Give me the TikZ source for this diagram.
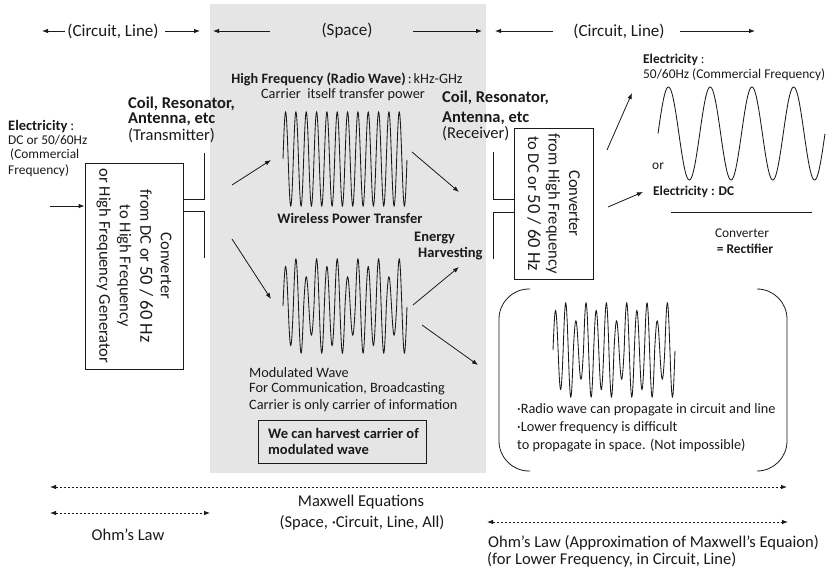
\documentclass[tikz,border=0pt]{standalone}
\usepackage{fontspec}
\setmainfont{Carlito}
\usetikzlibrary{arrows.meta}
\definecolor{txt}{HTML}{1A1A1A}
\definecolor{ln}{HTML}{1A1A1A}
\definecolor{bgc}{HTML}{E5E5E5}
\begin{document}
\begin{tikzpicture}[x=1pt,y=-1pt,
  every node/.style={inner sep=0pt, text=txt},
  arr/.style={draw=ln, line width=0.8pt, -{Latex[length=6pt,width=4.5pt]}},
  darr/.style={draw=ln, line width=0.8pt, dash pattern=on 2.4pt off 1.6pt, {Latex[length=6pt,width=4.5pt]}-{Latex[length=6pt,width=4.5pt]}},
  wave/.style={draw=ln, line width=0.85pt},
  plain/.style={draw=ln, line width=0.8pt},
  boxst/.style={draw=ln, line width=0.8pt},
  fs/.style={font=\fontsize{13.4}{15}\selectfont},
  fsb/.style={font=\fontsize{13.4}{15}\selectfont\bfseries},
  fe/.style={font=\fontsize{14.5}{15}\selectfont\bfseries},
  fm/.style={font=\fontsize{14.3}{16}\selectfont},
  fmb/.style={font=\fontsize{14.5}{16}\selectfont\bfseries},
  fh/.style={font=\fontsize{17}{18}\selectfont},
  fc/.style={font=\fontsize{16.5}{15}\selectfont},
  fcb/.style={font=\fontsize{16.5}{15}\selectfont\bfseries},
  fbt/.style={font=\fontsize{16.5}{15}\selectfont},
  fr/.style={font=\fontsize{16.5}{20.5}\selectfont},
  declare function={amp(\t)=0.84*(mod(floor(\t),4)==0)+0.62*(mod(floor(\t),4)==2)+(mod(floor(\t),4)==1)+(mod(floor(\t),4)==3);}
]
\useasboundingbox (0,0) rectangle (839,575);
% space background
\node[fill=bgc, minimum width=276pt, minimum height=469pt, anchor=north west] (space) at (210,4) {};

% header
\node[fh] (hcl1) at (113,31) {(Circuit, Line)};
\node[fh] (hsp) at (347,31) {(Space)};
\node[fh] (hcl2) at (619,31) {(Circuit, Line)};
\coordinate (hA1) at (65,31); \coordinate (hA2) at (42,31);
\coordinate (hB1) at (165,31); \coordinate (hB2) at (200,31);
\coordinate (hC1) at (270,31); \coordinate (hC2) at (213,31);
\coordinate (hD1) at (413,31); \coordinate (hD2) at (482,31);
\coordinate (hE1) at (553,31); \coordinate (hE2) at (495,31);
\coordinate (hF1) at (680,31); \coordinate (hF2) at (755,31);
\draw[arr] (hA1) -- (hA2);
\draw[arr] (hB1) -- (hB2);
\draw[arr] (hC1) -- (hC2);
\draw[arr] (hD1) -- (hD2);
\draw[arr] (hE1) -- (hE2);
\draw[arr] (hF1) -- (hF2);

% high frequency text
\node[fm] (hf) at (347,79) {{\bfseries High Frequency (Radio Wave)}\hspace{2pt}:\hspace{2pt}kHz-GHz};
\node[fm] (hf2) at (343,95) {Carrier\ \ itself transfer power};

% left electricity
\node[fe, anchor=west] (el1) at (8,127) {Electricity\hspace{3pt}{\mdseries :}};
\node[fs, anchor=west] (el2) at (8,140) {DC or 50/60Hz};
\node[fs, anchor=west] (el3) at (10,155) {(Commercial};
\node[fs, anchor=west] (el4) at (8,171) {Frequency)};

% coil transmitter
\node[fcb, anchor=west] (ct1) at (128,103.5) {Coil, Resonator,};
\node[fcb, anchor=west] (ct2) at (128,119.5) {Antenna, etc};
\node[fc, anchor=west] (ct3) at (128,135.5) {(Transmitter)};

% coil receiver
\node[fcb, anchor=west] (cr1) at (442,98) {Coil, Resonator,};
\node[fcb, anchor=west] (cr2) at (442,118) {Antenna, etc};
\node[fc, anchor=west] (cr3) at (442,134) {(Receiver)};

% left box
\node[boxst, minimum width=98pt, minimum height=206pt] (lbox) at (134,266) {};
\node[fr, rotate=-90, align=center] (lboxt) at (lbox.center) {Converter\\from DC or {\fontsize{18.5}{20.5}\selectfont 50 / 60 Hz}\\to High Frequency\\or High Frequency Generator};
\coordinate (inA) at (50,206);
\draw[arr] (inA) -- (lbox.west |- inA);
% transmitter antenna
\coordinate (tu) at (204,153);
\coordinate (td) at (204,258);
\draw[plain] (tu) |- (lbox.east |- 0,199);
\draw[plain] (td) |- (lbox.east |- 0,211);

% right box
\node[boxst, minimum width=79pt, minimum height=151pt] (rbox) at (553.5,203.5) {};
\node[fr, rotate=-90, align=center] (rboxt) at (rbox.center) {Converter\\from High Frequency\\to DC or {\fontsize{18.5}{20.5}\selectfont 50 / 60 Hz}};
\coordinate (ru) at (493,152);
\coordinate (rd) at (493,259);
\draw[plain] (ru) |- (rbox.west |- 0,199);
\draw[plain] (rd) |- (rbox.west |- 0,212);

% waves
\draw[wave] plot[domain=0:12, samples=481, variable=\t] ({283+\t*124/12}, {159-47*sin(360*\t)});
\draw[wave] plot[domain=0:12, samples=481, variable=\t] ({283+\t*124/12}, {306-47*amp(\t)*sin(360*\t)});
\draw[wave] plot[domain=0:12, samples=481, variable=\t] ({553+\t*122/12}, {350-47*amp(\t)*sin(360*\t)});
\draw[wave] plot[domain=0:4, samples=241, variable=\t] ({658+\t*167/4}, {133.5-46.5*sin(360*\t)});

% middle texts
\node[fmb] (wpt) at (350,218) {Wireless Power Transfer};
\node[fmb, anchor=west] (eh1) at (414,238) {Energy};
\node[fmb, anchor=west] (eh2) at (418,254) {Harvesting};
\node[fm, anchor=west] (mw1) at (249,373) {Modulated Wave};
\node[fm, anchor=west] (mw2) at (249,389) {For Communication, Broadcasting};
\node[fm, anchor=west] (mw3) at (249,406) {Carrier is only carrier of information};
\node[boxst, minimum width=168pt, minimum height=43pt] (hv) at (342,441.5) {};
\node[fmb, anchor=west, align=left] (hvt) at (268,441.5) {We can harvest carrier of\\modulated wave};

% middle arrows
\coordinate (m1s) at (232,185); \coordinate (m1e) at (271,160);
\coordinate (m2s) at (232,239); \coordinate (m2e) at (271,299);
\coordinate (m3s) at (412,152); \coordinate (m3e) at (459,192);
\coordinate (m4s) at (413,305); \coordinate (m4e) at (459,267);
\coordinate (m5s) at (422,325); \coordinate (m5e) at (478,365);
\draw[arr] (m1s) -- (m1e);
\draw[arr] (m2s) -- (m2e);
\draw[arr] (m3s) -- (m3e);
\draw[arr] (m4s) -- (m4e);
\draw[arr] (m5s) -- (m5e);

% right side
\coordinate (r1s) at (607,150); \coordinate (r1e) at (632,93);
\coordinate (r2s) at (608,207); \coordinate (r2e) at (643,192);
\draw[arr] (r1s) -- (r1e);
\draw[arr] (r2s) -- (r2e);
\node[fsb, anchor=west] (er1) at (643,60) {Electricity\hspace{3pt}{\mdseries :}};
\node[fs, anchor=west] (er2) at (643,75) {50/60Hz (Commercial Frequency)};
\node[fs, anchor=west] (or) at (652,166) {or};
\node[fsb, anchor=west] (edc) at (653,192) {Electricity : DC};
\coordinate (rl1) at (671,212); \coordinate (rl2) at (812,212);
\draw[plain] (rl1) -- (rl2);
\node[fs] (cv) at (742,233) {Converter};
\node[fsb] (rect) at (745,249) {= Rectifier};

% bracket box
\draw[plain, rounded corners=30pt] (530,289) -- (499,289) -- (499,471) -- (530,471);
\draw[plain, rounded corners=30pt] (757,289) -- (787,289) -- (787,471) -- (757,471);
\node[fm, anchor=west] (b1) at (517,410) {·Radio wave can propagate in circuit and line};
\node[fm, anchor=west] (b2) at (517,428) {·Lower frequency is difficult};
\node[fm, anchor=west] (b3) at (517,445) {to propagate in space. (Not impossible)};

% bottom
\coordinate (L1a) at (50,487); \coordinate (L1b) at (787,487);
\coordinate (L2a) at (50,513); \coordinate (L2b) at (210,513);
\coordinate (L3a) at (487,522); \coordinate (L3b) at (788,522);
\draw[darr] (L1a) -- (L1b);
\draw[darr] (L2a) -- (L2b);
\draw[darr] (L3a) -- (L3b);
\node[fbt] (mx1) at (361,502) {Maxwell Equations};
\node[fbt] (mx2) at (362,523) {(Space, ·Circuit, Line, All)};
\node[fbt] (ohm) at (128,535) {Ohm’s Law};
\node[fbt, anchor=west] (oa1) at (488,543) {Ohm’s Law (Approximation of Maxwell’s Equaion)};
\node[fbt, anchor=west] (oa2) at (487,560) {(for Lower Frequency, in Circuit, Line)};
\end{tikzpicture}
\end{document}
